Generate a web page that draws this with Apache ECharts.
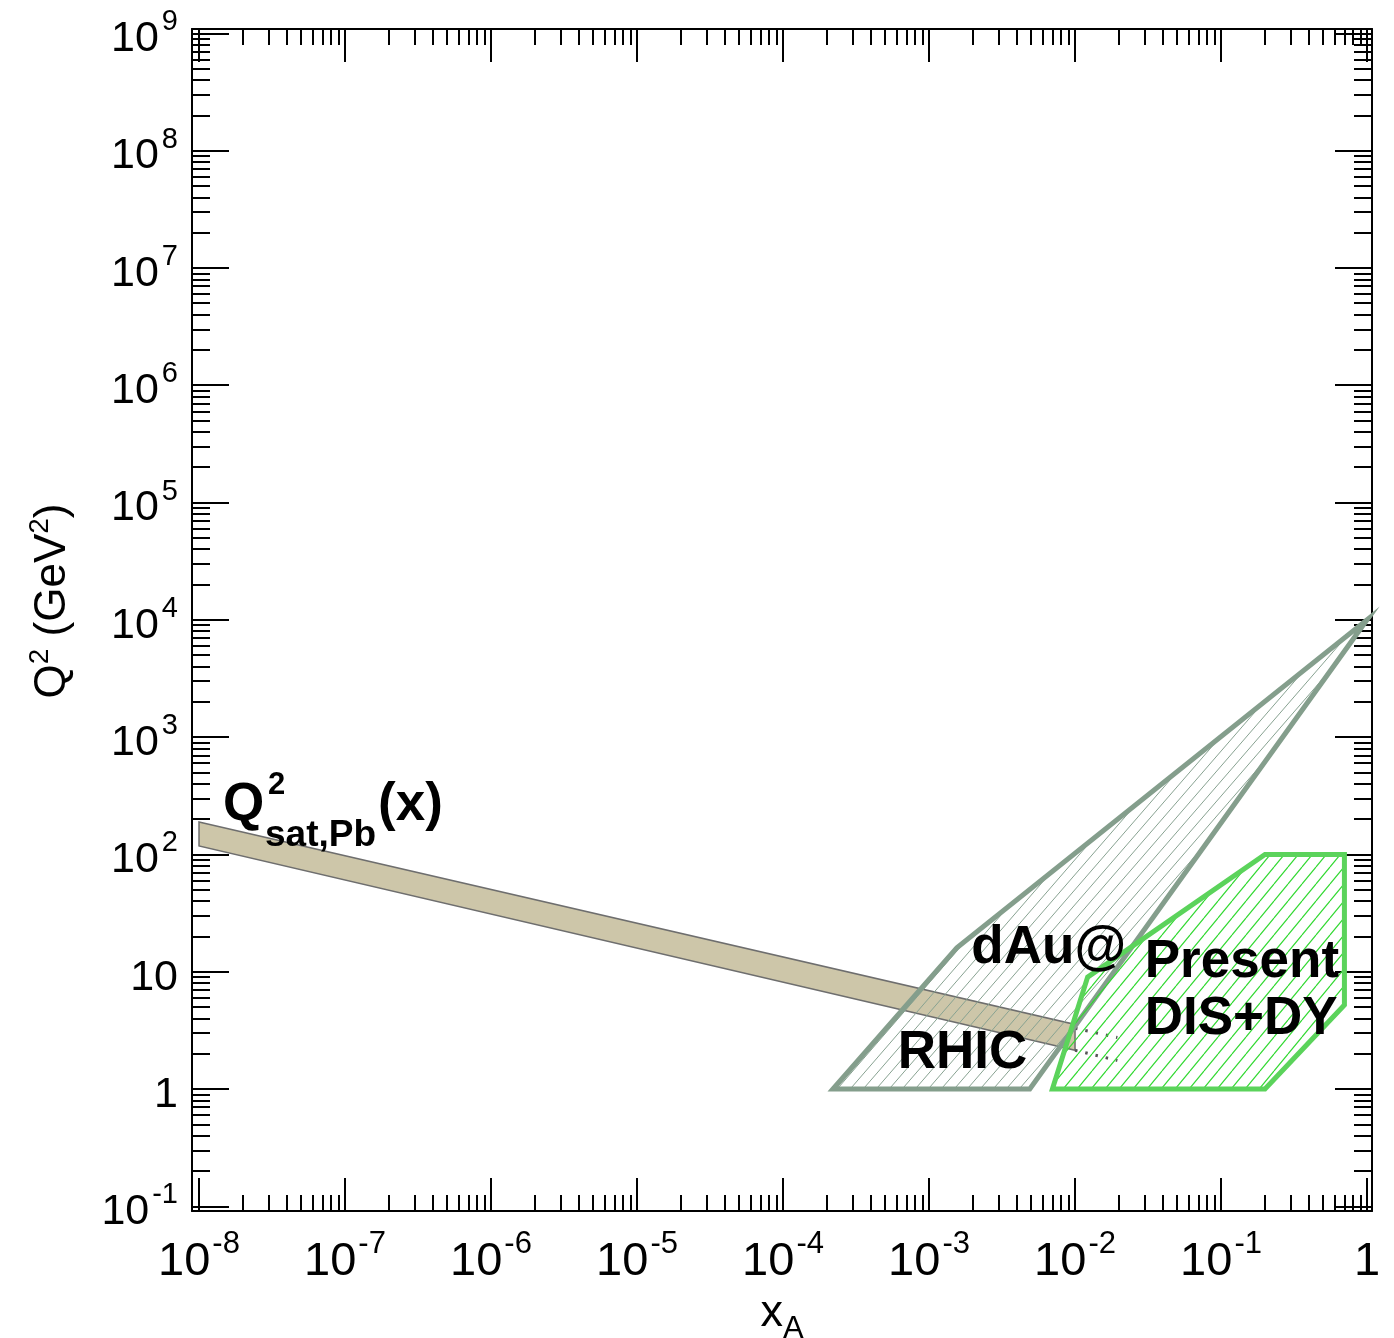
<!DOCTYPE html>
<html>
<head>
<meta charset="utf-8">
<script src="https://cdn.jsdelivr.net/npm/echarts@6/dist/echarts.min.js"></script>
<style>
    html, body { margin: 0; padding: 0; background: #fff; }
    #chart { width: 1394px; height: 1338px; }
</style>
</head>
<body>
<div id="chart"></div>
<script>
// 坐标轴刻度（以 log10 表示）
const xDecades = [-8, -7, -6, -5, -4, -3, -2, -1, 0];
const xTickLabels = ['{m|10}{s|-8}', '{m|10}{s|-7}', '{m|10}{s|-6}', '{m|10}{s|-5}', '{m|10}{s|-4}',
    '{m|10}{s|-3}', '{m|10}{s|-2}', '{m|10}{s|-1}', '{p|1}'];
const yDecades = [-1, 0, 1, 2, 3, 4, 5, 6, 7, 8, 9];
const yTickLabels = ['{m|10}{s|-1}', '{m|1}', '{m|10}', '{m|10}{s|2}', '{m|10}{s|3}', '{m|10}{s|4}',
    '{m|10}{s|5}', '{m|10}{s|6}', '{m|10}{s|7}', '{m|10}{s|8}', '{m|10}{s|9}'];

// Q^2_sat,Pb(x) 带
const satX = [1e-8, 1e-2];
const satUpper = [189, 3.55];
const satLower = [118, 2.14];
const satDotX = [1e-2, 1.95e-2];
const satDotUpper = [3.3, 2.75];
const satDotLower = [2.14, 1.75];

// dAu@RHIC 区域
const rhicX = [2.2e-4, 1.55e-3, 1, 4.9e-3];
const rhicQ2 = [1, 16, 1e4, 1];

// Present DIS+DY 区域
const disX = [7e-3, 1.22e-2, 0.2, 0.7, 0.7, 0.2];
const disQ2 = [1, 9, 100, 100, 5.2, 1];

// 文字标注
const labelText = ['dAu@', 'RHIC', 'Present', 'DIS+DY'];
const labelX = [1.95e-3, 6.1e-4, 3.0e-2, 3.0e-2];
const labelQ2 = [15.9, 2.0, 11.9, 3.95];
const satLabelX = 1.46e-8;
const satLabelQ2 = 262;

// 轴范围（log10）
const X_MIN = -8.048, X_MAX = 0.034;
const Y_MIN = -1.04, Y_MAX = 9.037;
const FONT = '"Liberation Sans", Arial, Helvetica, sans-serif';

function minorValues(decades) {
    const out = [];
    decades.slice(0, -1).forEach(n => {
        for (let k = 2; k <= 9; k++) out.push(n + Math.log10(k));
    });
    return out;
}

// 生成斜线填充图案
function makeHatch(color, w, h, lw) {
    const c = document.createElement('canvas');
    c.width = w;
    c.height = h;
    const ctx = c.getContext('2d');
    ctx.strokeStyle = color;
    ctx.lineWidth = lw;
    ctx.beginPath();
    [-w, 0, w].forEach(dx => {
        ctx.moveTo(dx, h);
        ctx.lineTo(dx + w, 0);
    });
    ctx.stroke();
    return c;
}

function toPoint(x, y) {
    return [Math.log10(x), Math.log10(y)];
}

function polygonSeries(xs, ys, style, z) {
    return {
        type: 'custom',
        coordinateSystem: 'cartesian2d',
        clip: false,
        silent: true,
        z: z,
        data: [[xs.length]],
        renderItem: function (params, api) {
            return {
                type: 'polygon',
                shape: { points: xs.map((x, i) => api.coord(toPoint(x, ys[i]))) },
                style: style
            };
        }
    };
}

function xAxisDef(position, major, showLabel) {
    return {
        type: 'value',
        position: position,
        min: X_MIN,
        max: X_MAX,
        splitLine: { show: false },
        axisLine: { show: major, onZero: false, lineStyle: { color: '#000', width: 2 } },
        axisTick: {
            show: true, inside: true, length: major ? 33 : 16,
            customValues: major ? xDecades : minorValues(xDecades),
            lineStyle: { color: '#000', width: 2 }
        },
        axisLabel: {
            show: showLabel,
            customValues: xDecades,
            margin: 18,
            formatter: v => xTickLabels[xDecades.indexOf(Math.round(v))],
            rich: {
                m: { fontSize: 47, fontFamily: FONT, color: '#000', padding: [10, 0, 9, 0] },
                s: { fontSize: 31, fontFamily: FONT, color: '#000', padding: [0, 0, 35, 2] },
                p: { fontSize: 47, fontFamily: FONT, color: '#000', padding: [10, 0, 9, 0] }
            }
        }
    };
}

function yAxisDef(position, major, showLabel) {
    return {
        type: 'value',
        position: position,
        min: Y_MIN,
        max: Y_MAX,
        splitLine: { show: false },
        axisLine: { show: major, onZero: false, lineStyle: { color: '#000', width: 2 } },
        axisTick: {
            show: true, inside: true, length: major ? 37 : 18,
            customValues: major ? yDecades : minorValues(yDecades),
            lineStyle: { color: '#000', width: 2 }
        },
        axisLabel: {
            show: showLabel,
            customValues: yDecades,
            margin: 14,
            formatter: v => yTickLabels[yDecades.indexOf(Math.round(v))],
            rich: {
                m: { fontSize: 43, fontFamily: FONT, color: '#000', padding: [12, 0, 0, 0] },
                s: { fontSize: 29, fontFamily: FONT, color: '#000', padding: [0, 0, 22, 3] }
            }
        }
    };
}

function initializeChart() {
    const chartDom = document.getElementById('chart');
    const chart = echarts.init(chartDom, null, { renderer: 'canvas' });

    const rhicHatch = makeHatch('#88a291', 13, 15, 1);
    const disHatch = makeHatch('#33d933', 14, 17, 1.2);

    const xAxes = [xAxisDef('bottom', true, true), xAxisDef('bottom', false, false),
        xAxisDef('top', true, false), xAxisDef('top', false, false)];
    xAxes[0].name = 'x{sub|A}';
    xAxes[0].nameLocation = 'middle';
    xAxes[0].nameGap = 71;
    xAxes[0].nameTextStyle = {
        fontSize: 45, fontFamily: FONT, color: '#000',
        rich: { sub: { fontSize: 31, fontFamily: FONT, color: '#000', padding: [32, 0, 0, 0] } }
    };

    const yAxes = [yAxisDef('left', true, true), yAxisDef('left', false, false),
        yAxisDef('right', true, false), yAxisDef('right', false, false)];
    yAxes[0].name = 'Q{sup|2} (GeV{sup|2})';
    yAxes[0].nameLocation = 'middle';
    yAxes[0].nameGap = 112;
    yAxes[0].nameTextStyle = {
        fontSize: 44, fontFamily: FONT, color: '#000', padding: [0, 0, 0, 38],
        rich: { sup: { fontSize: 28, fontFamily: FONT, color: '#000', padding: [0, 0, 26, 0] } }
    };

    const satPolyX = satX.concat(satX.slice().reverse());
    const satPolyY = satUpper.concat(satLower.slice().reverse());

    const dotStyle = { color: '#555', width: 3, type: [2.5, 8] };

    const option = {
        animation: false,
        backgroundColor: '#fff',
        textStyle: { fontFamily: FONT },
        grid: {
            left: 192, top: 29, width: 1180, height: 1182,
            containLabel: false, outerBoundsMode: 'none'
        },
        xAxis: xAxes,
        yAxis: yAxes,
        series: [
            polygonSeries(satPolyX, satPolyY, { fill: '#cdc6a9', stroke: '#6e6e6e', lineWidth: 1.5 }, 2),
            {
                type: 'line', z: 3, silent: true, symbol: 'none',
                data: satDotX.map((x, i) => toPoint(x, satDotUpper[i])),
                lineStyle: dotStyle
            },
            {
                type: 'line', z: 3, silent: true, symbol: 'none',
                data: satDotX.map((x, i) => toPoint(x, satDotLower[i])),
                lineStyle: dotStyle
            },
            polygonSeries(rhicX, rhicQ2, {
                fill: { image: rhicHatch, repeat: 'repeat' },
                stroke: '#849e8c', lineWidth: 5, lineJoin: 'miter'
            }, 4),
            polygonSeries(disX, disQ2, {
                fill: { image: disHatch, repeat: 'repeat' },
                stroke: '#5bd35b', lineWidth: 5, lineJoin: 'miter'
            }, 5),
            {
                type: 'custom',
                coordinateSystem: 'cartesian2d',
                clip: false,
                silent: true,
                z: 6,
                data: labelText.map((t, i) => toPoint(labelX[i], labelQ2[i])),
                renderItem: function (params, api) {
                    const p = api.coord([api.value(0), api.value(1)]);
                    return {
                        type: 'text', x: p[0], y: p[1],
                        style: {
                            text: labelText[params.dataIndex], fill: '#000',
                            fontSize: 53, fontWeight: 'bold', fontFamily: FONT,
                            align: 'left', verticalAlign: 'middle'
                        }
                    };
                }
            },
            {
                type: 'custom',
                coordinateSystem: 'cartesian2d',
                clip: false,
                silent: true,
                z: 6,
                data: [toPoint(satLabelX, satLabelQ2)],
                renderItem: function (params, api) {
                    const p = api.coord([api.value(0), api.value(1)]);
                    const txt = (text, x, y, size) => ({
                        type: 'text', x: x, y: y,
                        style: {
                            text: text, fill: '#000', fontSize: size, fontWeight: 'bold',
                            fontFamily: FONT, align: 'left', verticalAlign: 'middle'
                        }
                    });
                    return {
                        type: 'group', x: p[0], y: p[1],
                        children: [
                            txt('Q', 0, 0, 53),
                            txt('2', 45, -20, 31),
                            txt('sat,Pb', 42, 30, 37),
                            txt('(x)', 155, 0, 53)
                        ]
                    };
                }
            }
        ]
    };

    chart.setOption(option);
    window.mainChart = chart;
}

document.addEventListener('DOMContentLoaded', initializeChart);
</script>
</body>
</html>
